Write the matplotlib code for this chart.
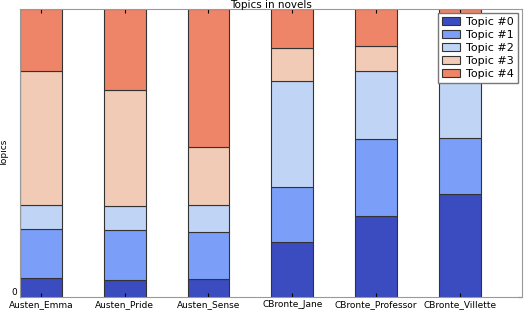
import numpy as np
import matplotlib
matplotlib.use("Agg")
import matplotlib.pyplot as plt

novels = ["Austen_Emma", "Austen_Pride", "Austen_Sense",
          "CBronte_Jane", "CBronte_Professor", "CBronte_Villette"]
topics = ["Topic #0", "Topic #1", "Topic #2", "Topic #3", "Topic #4"]

# share of each topic per novel
topic0 = [0.066, 0.059, 0.063, 0.191, 0.281, 0.358]
topic1 = [0.170, 0.174, 0.163, 0.191, 0.267, 0.194]
topic2 = [0.083, 0.083, 0.092, 0.368, 0.236, 0.300]
topic3 = [0.465, 0.403, 0.203, 0.115, 0.087, 0.120]
topic4 = [0.216, 0.281, 0.479, 0.135, 0.129, 0.028]

colors = ["#3b4cc0", "#7b9ff9", "#c0d4f5", "#f2cbb7", "#ee8468"]

fig = plt.figure(figsize=(5.25, 3.11), dpi=100)
ax = fig.add_axes([0.038, 0.045, 0.956, 0.926])

x = np.arange(len(novels))
bottom = np.zeros(len(novels))
for name, vals, c in zip(topics, [topic0, topic1, topic2, topic3, topic4], colors):
    ax.bar(x, vals, 0.5, bottom=bottom, color=c, edgecolor="#333333",
           linewidth=0.8, label=name)
    bottom = bottom + np.array(vals)

ax.set_xlim(-0.25, 5.74)
ax.set_ylim(0, 1)
ax.set_xticks(x)
ax.set_xticklabels(novels, fontsize=6.5)
ax.set_yticks([0])
ax.set_yticklabels(["0"], fontsize=6.5, va="bottom")
ax.tick_params(axis="x", direction="in", top=True, length=3, pad=2)
ax.tick_params(axis="y", direction="in", right=True, length=3, pad=2)
ax.set_ylabel("Topics", fontsize=6.5)
ax.yaxis.set_label_coords(-0.022, 0.5)
ax.set_title("Topics in novels", fontsize=7.5, pad=1)
for s in ax.spines.values():
    s.set_color("#999999")

ax.legend(loc="upper right", fontsize=8, handlelength=1.6, fancybox=False,
          edgecolor="#777777", framealpha=1, borderaxespad=0.35,
          labelspacing=0.28, handletextpad=0.6, borderpad=0.35)

fig.savefig("out.png", dpi=100)
